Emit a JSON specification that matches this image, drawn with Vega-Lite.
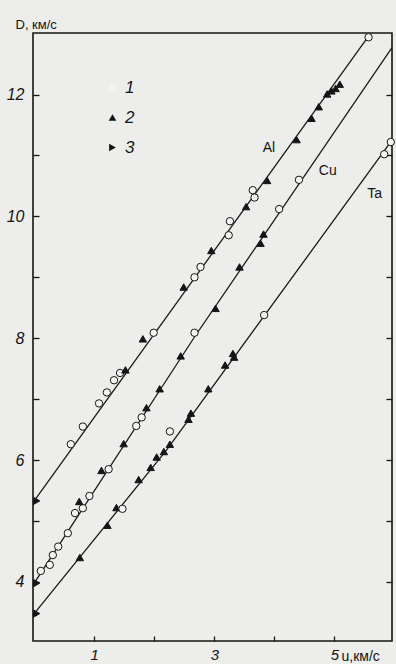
{
  "$schema": "https://vega.github.io/schema/vega-lite/v6.json",
  "width": 359,
  "height": 608,
  "autosize": "none",
  "padding": {"left": 33, "top": 33, "right": 4, "bottom": 23},
  "background": "#ededeb",
  "config": {
    "view": {"stroke": "#151515", "strokeWidth": 1.6},
    "font": "Liberation Sans",
    "axis": {"tickColor": "#151515", "tickWidth": 1.3, "domain": false, "grid": false, "labelColor": "#151515", "titleColor": "#151515"}
  },
  "datasets": {
    "lines": [
      {"series": "Al", "u": 0, "D": 5.33},
      {"series": "Al", "u": 5.6, "D": 13.0},
      {"series": "Cu", "u": 0, "D": 3.98},
      {"series": "Cu", "u": 2.67, "D": 8.02},
      {"series": "Cu", "u": 5.96, "D": 12.77},
      {"series": "Ta", "u": 0, "D": 3.48},
      {"series": "Ta", "u": 2.21, "D": 6.17},
      {"series": "Ta", "u": 5.96, "D": 11.25}
    ],
    "pts": [
      {"u": 0.04, "D": 5.33, "type": "3"},
      {"u": 0.61, "D": 6.26, "type": "1"},
      {"u": 0.81, "D": 6.55, "type": "1"},
      {"u": 1.08, "D": 6.93, "type": "1"},
      {"u": 1.21, "D": 7.11, "type": "1"},
      {"u": 1.33, "D": 7.31, "type": "1"},
      {"u": 1.43, "D": 7.43, "type": "1"},
      {"u": 1.52, "D": 7.48, "type": "2"},
      {"u": 1.81, "D": 7.99, "type": "2"},
      {"u": 1.99, "D": 8.09, "type": "1"},
      {"u": 2.49, "D": 8.84, "type": "2"},
      {"u": 2.67, "D": 9.0, "type": "1"},
      {"u": 2.77, "D": 9.17, "type": "1"},
      {"u": 2.95, "D": 9.44, "type": "2"},
      {"u": 3.24, "D": 9.69, "type": "1"},
      {"u": 3.26, "D": 9.92, "type": "1"},
      {"u": 3.53, "D": 10.16, "type": "2"},
      {"u": 3.67, "D": 10.31, "type": "1"},
      {"u": 3.64, "D": 10.43, "type": "1"},
      {"u": 3.88, "D": 10.59, "type": "2"},
      {"u": 4.37, "D": 11.26, "type": "2"},
      {"u": 4.62, "D": 11.61, "type": "2"},
      {"u": 4.74, "D": 11.8, "type": "2"},
      {"u": 4.88, "D": 12.01, "type": "2"},
      {"u": 4.95, "D": 12.06, "type": "2"},
      {"u": 5.02, "D": 12.1, "type": "2"},
      {"u": 5.09, "D": 12.17, "type": "2"},
      {"u": 5.57, "D": 12.94, "type": "1"},
      {"u": 0.04, "D": 3.98, "type": "3"},
      {"u": 0.11, "D": 4.18, "type": "1"},
      {"u": 0.26, "D": 4.28, "type": "1"},
      {"u": 0.31, "D": 4.44, "type": "1"},
      {"u": 0.4, "D": 4.58, "type": "1"},
      {"u": 0.56, "D": 4.8, "type": "1"},
      {"u": 0.68, "D": 5.13, "type": "1"},
      {"u": 0.81, "D": 5.21, "type": "1"},
      {"u": 0.92, "D": 5.41, "type": "1"},
      {"u": 1.24, "D": 5.85, "type": "1"},
      {"u": 1.7, "D": 6.56, "type": "1"},
      {"u": 1.79, "D": 6.7, "type": "1"},
      {"u": 2.67, "D": 8.09, "type": "1"},
      {"u": 4.08, "D": 10.12, "type": "1"},
      {"u": 4.41, "D": 10.6, "type": "1"},
      {"u": 0.75, "D": 5.32, "type": "2"},
      {"u": 1.12, "D": 5.83, "type": "2"},
      {"u": 1.49, "D": 6.27, "type": "2"},
      {"u": 1.87, "D": 6.86, "type": "2"},
      {"u": 2.09, "D": 7.17, "type": "2"},
      {"u": 2.44, "D": 7.71, "type": "2"},
      {"u": 3.02, "D": 8.49, "type": "2"},
      {"u": 3.42, "D": 9.17, "type": "2"},
      {"u": 3.77, "D": 9.56, "type": "2"},
      {"u": 3.82, "D": 9.71, "type": "2"},
      {"u": 0.04, "D": 3.48, "type": "3"},
      {"u": 0.76, "D": 4.4, "type": "2"},
      {"u": 1.22, "D": 4.93, "type": "2"},
      {"u": 1.37, "D": 5.22, "type": "2"},
      {"u": 1.74, "D": 5.68, "type": "2"},
      {"u": 1.94, "D": 5.88, "type": "2"},
      {"u": 2.04, "D": 6.05, "type": "2"},
      {"u": 2.16, "D": 6.14, "type": "2"},
      {"u": 2.26, "D": 6.26, "type": "2"},
      {"u": 2.57, "D": 6.67, "type": "2"},
      {"u": 2.61, "D": 6.77, "type": "2"},
      {"u": 2.9, "D": 7.17, "type": "2"},
      {"u": 3.18, "D": 7.56, "type": "2"},
      {"u": 3.31, "D": 7.75, "type": "2"},
      {"u": 3.33, "D": 7.69, "type": "2"},
      {"u": 1.47, "D": 5.2, "type": "1"},
      {"u": 2.26, "D": 6.47, "type": "1"},
      {"u": 3.83, "D": 8.38, "type": "1"},
      {"u": 5.83, "D": 11.02, "type": "1"},
      {"u": 5.94, "D": 11.22, "type": "1"}
    ],
    "labels": [
      {"u": 3.91, "D": 11.13, "name": "Al"},
      {"u": 4.89, "D": 10.75, "name": "Cu"},
      {"u": 5.67, "D": 10.37, "name": "Ta"}
    ]
  },
  "resolve": {"axis": {"y": "independent"}},
  "layer": [
    {
      "data": {"name": "lines"},
      "mark": {"type": "line", "color": "#1a1a1a", "strokeWidth": 1.3, "clip": true},
      "encoding": {
        "x": {
          "field": "u", "type": "quantitative",
          "scale": {"domain": [-0.02, 5.96], "nice": false, "zero": false},
          "axis": {
            "orient": "bottom", "values": [1, 2, 3, 4, 5], "tickSize": -5, "labelPadding": 11,
            "labelExpr": "datum.value % 2 == 1 ? datum.value : ''",
            "labelFontSize": 15, "labelFontStyle": "italic", "labelBaseline": "top",
            "title": "u,км/с", "titleX": 308, "titleY": 19, "titleAlign": "left", "titleBaseline": "alphabetic",
            "titleFontSize": 14, "titleFontWeight": "normal"
          }
        },
        "y": {
          "field": "D", "type": "quantitative",
          "scale": {"domain": [3.03, 13.01], "nice": false, "zero": false},
          "axis": {
            "orient": "left", "values": [4, 5, 6, 7, 8, 9, 10, 11, 12], "tickSize": -6, "labelPadding": 15,
            "labelExpr": "datum.value % 2 == 0 ? datum.value : ''",
            "labelFontSize": 16, "labelFontStyle": "italic",
            "title": "D, км/с", "titleAngle": 0, "titleX": -18, "titleY": -5, "titleAlign": "left", "titleBaseline": "alphabetic",
            "titleFontSize": 13, "titleFontWeight": "normal"
          }
        },
        "detail": {"field": "series"},
        "order": {"field": "u"}
      }
    },
    {
      "data": {"name": "pts"},
      "mark": {"type": "point", "filled": true, "stroke": "#151515", "strokeWidth": 1, "opacity": 1, "size": 55},
      "encoding": {
        "x": {"field": "u", "type": "quantitative"},
        "y": {"field": "D", "type": "quantitative", "axis": null},
        "shape": {
          "field": "type", "type": "nominal",
          "scale": {"domain": ["1", "2", "3"], "range": ["circle", "triangle-up", "triangle-right"]},
          "legend": {
            "orient": "none", "legendX": 71, "legendY": 46, "title": null, "padding": 0,
            "labelFontSize": 17, "labelFontStyle": "italic", "labelColor": "#151515", "labelOffset": 4,
            "symbolSize": 60, "rowPadding": 12, "symbolStrokeWidth": 1, "symbolStrokeColor": "#151515",
            "encode": {"symbols": {
              "enter": {"stroke": {"value": "#151515"}, "strokeWidth": {"value": 1}, "strokeOpacity": {"value": 1}},
              "update": {"stroke": {"value": "#151515"}, "strokeWidth": {"value": 1}, "strokeOpacity": {"value": 1}, "opacity": {"value": 1}}
            }}
          }
        },
        "fill": {
          "field": "type", "type": "nominal",
          "scale": {"domain": ["1", "2", "3"], "range": ["#f4f4f2", "#151515", "#151515"]},
          "legend": {
            "orient": "none", "legendX": 71, "legendY": 46, "title": null, "padding": 0,
            "labelFontSize": 17, "labelFontStyle": "italic", "labelColor": "#151515", "labelOffset": 4,
            "symbolSize": 60, "rowPadding": 12, "symbolStrokeWidth": 1, "symbolStrokeColor": "#151515",
            "encode": {"symbols": {
              "enter": {"stroke": {"value": "#151515"}, "strokeWidth": {"value": 1}, "strokeOpacity": {"value": 1}},
              "update": {"stroke": {"value": "#151515"}, "strokeWidth": {"value": 1}, "strokeOpacity": {"value": 1}, "opacity": {"value": 1}}
            }}
          }
        }
      }
    },
    {
      "data": {"name": "labels"},
      "mark": {"type": "text", "fontSize": 14, "color": "#151515", "align": "center", "baseline": "middle"},
      "encoding": {
        "x": {"field": "u", "type": "quantitative"},
        "y": {
          "field": "D", "type": "quantitative",
          "axis": {"orient": "right", "values": [4, 5, 6, 7, 8, 9, 10, 11, 12], "tickSize": -6, "labels": false, "title": null}
        },
        "text": {"field": "name"}
      }
    }
  ]
}
